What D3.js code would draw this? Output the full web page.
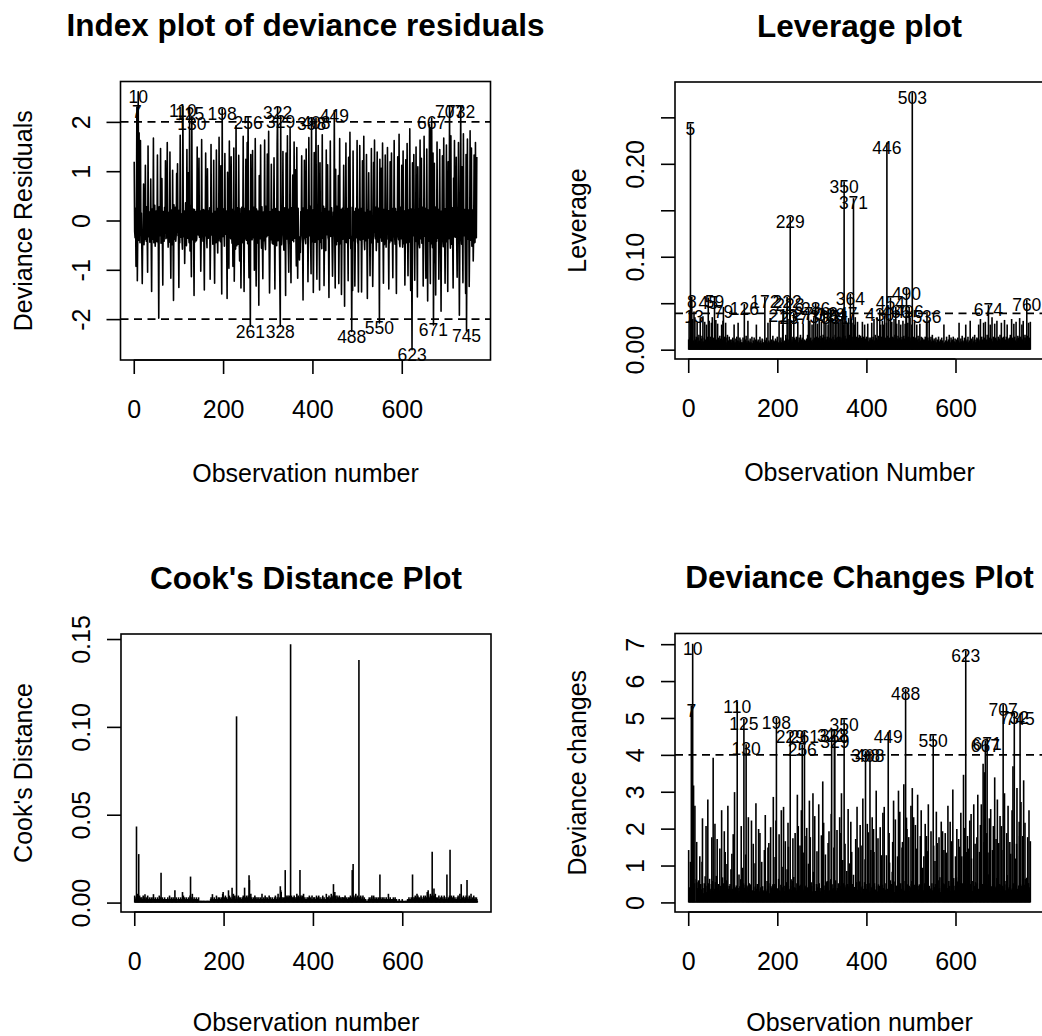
<!DOCTYPE html>
<html>
<head>
<meta charset="utf-8">
<script src="https://cdn.jsdelivr.net/npm/d3@7"></script>
<style>
  html, body { margin: 0; padding: 0; background: #fff; }
  svg { display: block; font-family: "Liberation Sans", Arial, Helvetica, sans-serif; }
</style>
</head>
<body>
<div id="chart"></div>
<script>
// Tick positions and labels
const observationTicks = [0, 200, 400, 600]
const residualTicks = [-2, -1, 0, 1, 2]
const residualTickLabels = ["-2", "-1", "0", "1", "2"]
const leverageTicks = [0, 0.05, 0.10, 0.15, 0.20, 0.25]
const leverageTickLabels = ["0.00", "", "0.10", "", "0.20", ""]
const cooksTicks = [0, 0.05, 0.10, 0.15]
const cooksTickLabels = ["0.00", "0.05", "0.10", "0.15"]
const changeTicks = [0, 1, 2, 3, 4, 5, 6, 7]
const changeTickLabels = ["0", "1", "2", "3", "4", "5", "6", "7"]

// Cut-off lines
const residualCutoffs = [-2, 2]
const leverageCutoffs = [0.0391]
const changeCutoffs = [4]

// One value per observation (1..768)
const devianceResiduals = [
  1.19,-0.22,-0.35,0.24,-0.93,0.31,2.30,-1.22,-0.28,2.61,-0.40,1.78,-0.26,-0.45,1.62,-0.18,0.15,-0.51,-1.28,-0.33,-0.27,0.74,-0.49,-0.21,
  -0.38,1.12,-0.25,-0.42,0.28,-0.26,-1.05,1.51,-0.33,-0.19,0.17,-0.44,-0.31,0.84,-0.37,-1.44,0.23,-0.22,-0.38,1.67,-0.45,-0.29,0.31,-0.52,
  -0.31,0.19,-0.27,-0.43,1.33,-0.35,-0.48,-1.98,0.28,-0.24,-0.31,1.46,-0.46,-0.18,0.85,-0.32,-1.31,0.18,-0.33,-0.42,0.27,-0.25,1.21,-0.37,
  -0.29,-0.35,1.58,-0.21,-0.54,0.16,-0.44,-0.30,1.39,-0.38,-1.17,0.21,-0.26,-0.49,1.02,-0.36,-1.62,0.32,-0.23,-0.38,0.27,-0.42,-0.30,0.95,
  -0.24,1.15,-0.31,-0.27,-1.36,0.21,-0.45,1.73,-0.20,-0.34,0.13,-0.39,-0.58,2.32,-0.29,-0.33,0.19,-0.87,-0.24,0.36,-0.28,-0.51,1.44,-0.33,
  -0.36,0.97,-0.31,-0.45,2.27,-0.62,0.31,-0.40,-1.14,2.07,-0.26,-0.39,0.23,-0.35,-1.52,0.22,-0.44,-0.22,0.18,-0.41,-0.37,1.49,-0.28,-0.29,
  -0.27,1.26,-0.34,-0.25,0.19,-1.03,-0.36,1.64,-0.32,-0.19,-0.42,0.22,-0.43,-1.41,0.21,-0.28,1.37,-0.30,-0.34,-0.55,1.05,-0.23,-0.36,0.19,
  -0.28,0.26,-1.19,-0.41,1.54,-0.27,-0.29,0.14,-0.48,-0.32,1.22,-0.36,-1.27,0.18,-0.21,-0.45,1.43,-0.33,-0.30,-0.66,0.25,-0.41,1.69,-0.34,
  -0.26,-0.43,1.11,-0.39,-1.49,2.26,-0.33,-0.31,0.23,-0.24,-0.52,1.36,-0.27,-0.28,0.19,-0.40,-1.58,0.98,-0.35,-0.32,-0.97,1.61,-0.29,-0.24,
  -0.37,1.29,-0.22,-0.46,0.22,-0.93,-0.41,1.47,-1.23,-0.31,0.19,-0.58,1.92,-0.37,-0.51,0.26,-0.26,-0.48,1.32,-0.34,-0.82,0.24,-0.35,-1.37,
  -0.33,0.27,-0.29,-0.45,1.71,-0.38,-1.44,0.24,-0.23,-0.37,1.24,-0.40,-0.33,1.58,-0.47,2.09,-0.32,-1.16,0.19,-0.27,-2.15,1.34,-0.31,-0.36,
  -0.39,1.42,-0.31,-0.35,0.27,-1.01,-0.40,1.66,-0.24,-1.33,0.23,-0.46,-0.38,0.19,-0.28,-1.72,0.91,-0.37,-0.33,1.53,-0.25,-0.56,0.28,-0.42,
  -1.18,0.17,-0.34,-0.41,1.63,-0.45,-0.59,0.29,-0.22,-0.33,1.35,-0.30,-0.30,1.81,-0.44,-1.47,-0.58,0.18,-0.39,1.14,-0.27,-0.46,0.22,-0.48,
  -0.35,1.27,-0.29,-1.39,0.24,-0.26,-0.47,-0.51,1.55,2.29,-0.41,-0.32,0.18,-0.33,-1.22,-2.15,2.11,-0.32,-0.49,0.27,-0.29,1.40,-0.33,-0.60,
  -0.44,0.26,-0.25,-1.52,1.37,-0.38,-0.36,1.72,-0.31,-0.49,-1.05,0.23,-0.45,1.89,-0.37,-1.26,0.26,-0.34,-0.40,0.92,-0.23,-0.43,1.59,-0.29,
  -0.36,1.03,-0.32,-0.92,1.48,-0.27,-1.17,0.25,-0.42,-0.38,-0.80,-0.33,-0.65,0.18,-0.24,1.31,-0.31,-0.46,-1.61,0.26,-0.30,1.22,-0.35,-0.39,
  -0.47,1.45,-0.28,-0.34,0.21,-1.24,-0.37,1.68,-0.31,-0.21,0.29,-0.46,-1.08,2.07,-0.43,-0.32,0.21,-1.46,-0.38,1.38,-0.26,-0.44,0.23,2.08,
  -0.28,-1.19,0.25,-0.35,1.52,-0.39,-0.25,-1.41,1.17,-0.44,0.16,-0.30,-0.57,1.74,-0.36,-0.22,0.29,-1.32,-0.41,0.24,-0.37,-0.61,1.43,-0.26,
  -0.29,1.13,-0.34,-0.40,-1.56,0.19,-0.33,1.61,-0.32,-0.27,0.26,-0.45,-1.13,-0.52,0.17,-0.31,2.23,-0.30,-1.37,1.04,-0.24,-0.49,0.29,-0.42,
  -0.36,0.91,-1.28,-0.35,1.66,-0.47,-0.23,0.22,-1.50,-0.39,0.25,-0.38,-0.27,1.12,-0.26,-1.74,0.19,-0.44,1.57,-0.32,-0.45,0.24,-0.31,-1.22,
  1.28,-0.36,-0.32,1.79,-0.29,-0.57,-0.48,-2.25,0.27,-1.42,1.41,-0.34,-0.41,0.18,-1.33,-0.38,0.25,-0.25,-0.35,1.62,-0.43,-0.48,-1.45,0.23,
  -0.39,1.52,-0.27,-0.40,0.24,-1.45,-0.33,1.21,-0.38,-0.22,1.71,-0.37,-0.59,0.16,-0.41,-0.30,1.34,-0.43,-1.58,0.22,-0.36,0.97,-0.28,-0.26,
  -1.12,0.19,-0.45,1.46,-0.31,-0.36,-1.34,-0.51,1.18,-0.24,1.63,-0.32,-0.37,0.27,-0.61,-0.29,1.39,-0.33,-0.44,0.25,-0.27,-2.08,1.24,-0.35,
  -0.34,1.06,-0.42,-0.40,1.57,-0.26,-1.27,0.22,-0.49,-0.31,1.33,-0.33,-0.54,0.21,-0.23,1.48,-0.38,-0.36,-1.39,0.20,-0.45,1.19,-0.28,-0.41,
  1.37,-0.42,-0.25,-1.16,0.25,-0.33,1.62,-0.30,-0.48,0.24,-0.37,-1.48,0.18,-0.24,1.29,-0.31,-0.39,1.75,-0.46,-0.53,0.27,-0.28,-0.37,1.12,
  -0.33,-0.54,1.41,-0.47,-0.22,0.19,-1.31,-0.39,1.23,-0.36,-0.45,1.56,-0.27,-1.12,0.21,-0.44,-0.31,1.86,-0.34,-1.42,0.23,-0.38,-2.62,1.17,
  -0.31,-0.26,1.34,-0.39,-1.21,0.22,-0.35,1.49,-0.43,-0.38,-1.55,1.09,-0.29,0.24,-0.48,-0.55,1.63,-0.37,-0.23,1.26,-0.46,-0.41,0.27,-1.33,
  -0.45,1.71,-0.28,-0.32,0.24,-1.17,-0.34,1.45,-0.33,-1.63,0.21,-0.26,-0.42,1.94,-0.39,-1.28,1.88,-0.47,2.08,-0.31,-0.55,1.37,-2.12,-0.38,
  1.16,-0.85,-0.36,-1.51,0.28,-0.42,1.59,-0.24,-0.36,0.22,-1.19,-0.33,1.44,-0.29,-0.27,-1.84,0.19,-0.35,1.31,-0.38,-0.53,1.67,-0.29,-0.31,
  -1.27,0.24,-0.43,1.53,-0.25,-0.40,-1.44,1.19,-0.37,-0.36,2.31,-0.31,-0.56,1.72,-0.48,-0.22,0.26,-0.41,-1.37,0.86,-0.34,1.62,-0.32,-0.28,
  -0.34,1.28,-0.40,-1.15,0.27,-0.30,1.58,-0.33,-1.92,-0.45,0.23,2.31,-0.27,-0.48,1.09,-0.36,-1.26,1.76,-0.31,-0.23,0.22,-0.39,-1.48,1.34,
  -2.23,-0.41,1.65,-0.32,-0.38,0.21,-1.34,-0.46,1.82,-0.27,-0.40,1.47,-0.52,-0.38,0.21,-0.82,-0.29,1.33,-0.45,-0.44,1.58,-0.31,-0.35,1.29
]

const leverages = [
  .011,.031,.005,.013,.243,.008,.027,.057,.007,.033,.005,.010,.041,.007,.035,.011,.004,.014,.008,.029,.006,.013,.009,.016,
  .007,.010,.034,.005,.012,.008,.015,.006,.036,.009,.005,.013,.030,.007,.011,.004,.027,.008,.014,.007,.056,.011,.031,.006,
  .010,.014,.005,.029,.007,.035,.011,.005,.013,.008,.057,.016,.006,.032,.009,.011,.007,.028,.005,.013,.008,.010,.015,.007,
  .012,.008,.027,.005,.011,.031,.046,.007,.010,.014,.006,.029,.008,.005,.013,.016,.007,.010,.005,.014,.009,.007,.011,.008,
  .006,.011,.007,.013,.005,.010,.027,.007,.008,.003,.012,.008,.014,.006,.010,.029,.005,.009,.007,.013,.005,.011,.007,.008,
  .008,.005,.013,.007,.010,.049,.006,.011,.005,.015,.007,.009,.005,.031,.007,.010,.004,.008,.012,.006,.008,.005,.014,.007,
  .005,.010,.007,.013,.005,.008,.011,.006,.027,.007,.005,.009,.011,.002,.008,.007,.014,.005,.010,.007,.005,.012,.008,.006,
  .008,.005,.011,.057,.007,.010,.005,.013,.008,.006,.029,.007,.010,.005,.008,.034,.007,.005,.011,.008,.006,.015,.007,.010,
  .005,.009,.007,.012,.008,.005,.010,.014,.006,.008,.007,.031,.005,.010,.007,.013,.008,.005,.011,.027,.042,.007,.009,.006,
  .010,.007,.016,.008,.012,.057,.007,.033,.008,.011,.006,.054,.143,.010,.028,.007,.011,.008,.014,.009,.040,.007,.013,.008,
  .011,.008,.014,.007,.010,.030,.008,.006,.013,.010,.007,.016,.005,.011,.008,.013,.007,.028,.009,.006,.011,.008,.010,.007,
  .009,.012,.007,.016,.008,.044,.007,.011,.031,.008,.013,.010,.006,.027,.008,.011,.007,.035,.009,.013,.008,.050,.010,.014,
  .011,.028,.008,.013,.007,.033,.010,.015,.008,.012,.030,.009,.013,.007,.016,.011,.041,.008,.014,.010,.029,.007,.011,.014,
  .011,.027,.008,.031,.010,.013,.007,.043,.012,.009,.034,.010,.014,.008,.029,.011,.008,.016,.040,.010,.013,.032,.009,.014,
  .010,.029,.008,.014,.033,.010,.013,.008,.036,.011,.044,.009,.027,.181,.011,.015,.008,.031,.012,.010,.028,.008,.013,.034,
  .011,.016,.009,.060,.013,.033,.010,.014,.008,.029,.163,.011,.027,.008,.035,.012,.010,.014,.007,.030,.011,.013,.009,.016,
  .011,.008,.015,.007,.013,.010,.030,.008,.011,.014,.007,.027,.009,.012,.007,.014,.010,.008,.028,.009,.006,.013,.008,.011,
  .010,.013,.007,.029,.008,.011,.014,.007,.033,.010,.008,.016,.009,.013,.007,.035,.011,.008,.015,.010,.012,.043,.008,.027,
  .011,.014,.009,.031,.012,.008,.027,.010,.037,.011,.013,.008,.029,.223,.007,.015,.010,.034,.009,.013,.011,.056,.014,.010,
  .030,.010,.014,.008,.013,.033,.010,.016,.011,.046,.009,.028,.012,.008,.015,.011,.032,.010,.013,.008,.027,.011,.009,.014,
  .011,.031,.009,.015,.012,.008,.028,.010,.036,.066,.013,.010,.029,.008,.014,.046,.011,.034,.009,.013,.010,.027,.277,.012,
  .010,.014,.008,.030,.011,.007,.013,.009,.027,.007,.011,.015,.008,.012,.003,.028,.010,.008,.014,.010,.007,.013,.008,.011,
  .007,.011,.009,.014,.006,.010,.029,.041,.008,.013,.010,.007,.032,.008,.011,.005,.014,.009,.007,.016,.006,.010,.008,.012,
  .007,.010,.005,.013,.008,.006,.011,.001,.008,.014,.005,.009,.007,.011,.004,.008,.013,.006,.010,.007,.005,.027,.007,.008,
  .005,.010,.007,.014,.006,.009,.005,.011,.008,.016,.007,.008,.002,.013,.010,.006,.011,.007,.014,.005,.009,.007,.012,.008,
  .006,.011,.008,.002,.013,.007,.010,.029,.007,.008,.005,.012,.009,.007,.015,.006,.010,.008,.005,.013,.008,.007,.027,.009,
  .007,.011,.006,.014,.008,.005,.010,.008,.031,.007,.010,.012,.007,.005,.014,.009,.006,.011,.016,.008,.007,.011,.008,.013,
  .008,.012,.007,.027,.009,.006,.011,.033,.007,.010,.014,.007,.011,.008,.029,.008,.013,.010,.030,.007,.011,.009,.016,.008,
  .011,.048,.008,.013,.008,.027,.010,.007,.012,.035,.009,.007,.014,.011,.008,.028,.010,.013,.007,.011,.031,.008,.010,.014,
  .008,.012,.010,.016,.007,.011,.029,.008,.013,.007,.010,.014,.009,.032,.008,.011,.010,.014,.007,.027,.009,.012,.008,.011,
  .013,.008,.016,.007,.011,.033,.010,.013,.008,.011,.028,.009,.014,.007,.010,.030,.008,.012,.007,.015,.010,.013,.008,.034,
  .011,.014,.008,.012,.027,.008,.011,.031,.009,.013,.007,.016,.010,.013,.008,.054,.011,.015,.008,.029,.010,.013,.011,.030
]

const cooksDistances = [
  .004,.002,.001,.003,.0433,.002,.005,.003,.002,.0276,.001,.004,.002,.003,.001,.002,.003,.001,.002,.004,.001,.002,.003,.0048,
  .002,.001,.003,.001,.002,.004,.001,.002,.001,.003,.002,.001,.002,.003,.001,.002,.001,.003,.0048,.002,.001,.002,.003,.001,
  .001,.002,.001,.003,.002,.001,.002,.004,.001,.002,.003,.017,.002,.001,.003,.002,.001,.002,.001,.003,.002,.001,.002,.001,
  .002,.001,.003,.001,.002,.001,.004,.002,.001,.002,.003,.001,.002,.001,.003,.002,.001,.002,.007,.002,.001,.003,.002,.001,
  .001,.002,.003,.001,.002,.001,.002,.003,.001,.002,.001,.006,.002,.004,.001,.002,.003,.001,.002,.001,.003,.002,.001,.002,
  .001,.003,.002,.001,.004,.0148,.002,.001,.003,.005,.002,.001,.002,.003,.001,.002,.001,.002,.003,.001,.001,.002,.001,.003,
  .001,.0005,.001,.0005,.001,.001,.0005,.001,.0005,.001,.0005,.001,.001,.0005,.001,.0005,.001,.0005,.001,.0005,.001,.001,.0005,.001,
  .0005,.001,.002,.003,.001,.002,.0048,.001,.002,.001,.003,.001,.002,.001,.002,.004,.001,.002,.001,.003,.001,.002,.003,.001,
  .002,.001,.003,.002,.001,.005,.006,.002,.001,.003,.002,.004,.001,.002,.003,.001,.002,.001,.007,.003,.004,.002,.001,.003,
  .002,.001,.0085,.002,.003,.005,.002,.004,.003,.002,.001,.004,.106,.003,.002,.001,.004,.002,.003,.001,.002,.003,.002,.001,
  .002,.003,.001,.004,.002,.003,.0085,.002,.003,.001,.004,.002,.003,.002,.004,.003,.0155,.0128,.002,.003,.005,.002,.003,.001,
  .002,.001,.003,.002,.001,.004,.002,.003,.001,.002,.003,.001,.002,.001,.003,.002,.001,.002,.003,.001,.002,.005,.001,.002,
  .002,.003,.001,.002,.004,.002,.003,.001,.002,.003,.002,.001,.002,.004,.003,.002,.003,.001,.002,.001,.003,.002,.001,.002,
  .001,.003,.002,.004,.002,.001,.002,.003,.002,.005,.002,.001,.003,.002,.0093,.007,.006,.002,.003,.002,.001,.003,.002,.002,
  .003,.0185,.002,.004,.003,.002,.003,.004,.002,.003,.004,.002,.003,.147,.003,.004,.002,.003,.002,.003,.001,.004,.003,.002,
  .002,.003,.002,.005,.003,.002,.004,.002,.003,.002,.0185,.003,.004,.002,.003,.004,.002,.003,.005,.002,.001,.003,.002,.001,
  .002,.001,.003,.002,.001,.003,.002,.004,.001,.002,.003,.002,.001,.004,.002,.001,.002,.003,.001,.003,.002,.001,.002,.004,
  .001,.003,.002,.001,.004,.002,.001,.003,.002,.001,.002,.001,.003,.004,.002,.001,.003,.002,.001,.002,.001,.005,.002,.003,
  .002,.003,.001,.004,.002,.001,.003,.002,.005,.002,.003,.001,.004,.0105,.002,.003,.006,.002,.004,.002,.001,.004,.003,.002,
  .003,.002,.004,.001,.003,.002,.001,.002,.003,.003,.002,.003,.001,.002,.003,.004,.002,.001,.003,.002,.001,.002,.003,.002,
  .002,.003,.001,.004,.002,.003,.002,.0185,.003,.022,.004,.002,.003,.002,.004,.005,.003,.002,.001,.004,.002,.003,.138,.002,
  .003,.002,.004,.002,.001,.003,.002,.004,.002,.001,.003,.002,.001,.002,.001,.0005,.001,.0005,.001,.002,.001,.003,.002,.001,
  .002,.003,.001,.004,.002,.001,.003,.004,.002,.001,.003,.002,.001,.002,.003,.001,.002,.001,.003,.002,.001,.016,.003,.002,
  .001,.002,.003,.001,.002,.001,.003,.002,.001,.002,.001,.003,.002,.001,.002,.001,.005,.002,.001,.002,.003,.001,.002,.001,
  .002,.001,.002,.003,.001,.002,.001,.003,.002,.001,.002,.001,.0005,.001,.0005,.001,.002,.001,.0005,.001,.001,.0005,.001,.002,
  .001,.0005,.001,.0005,.001,.0005,.001,.001,.0005,.001,.001,.002,.001,.002,.003,.001,.002,.001,.002,.003,.001,.002,.016,.003,
  .002,.001,.003,.002,.004,.002,.001,.003,.005,.002,.004,.003,.002,.001,.003,.002,.001,.004,.003,.002,.001,.002,.003,.004,
  .002,.003,.001,.004,.002,.001,.003,.006,.002,.007,.004,.002,.003,.002,.005,.003,.004,.002,.0289,.003,.002,.004,.008,.003,
  .004,.005,.002,.003,.001,.002,.003,.001,.002,.004,.002,.001,.003,.002,.001,.004,.002,.001,.003,.002,.001,.004,.002,.001,
  .002,.003,.001,.016,.002,.001,.003,.002,.001,.004,.030,.003,.002,.004,.002,.001,.003,.002,.004,.002,.001,.003,.002,.001,
  .002,.001,.003,.002,.004,.001,.003,.002,.005,.001,.002,.0105,.002,.001,.003,.002,.004,.003,.001,.002,.003,.001,.004,.002,
  .0128,.002,.003,.001,.002,.004,.003,.001,.002,.005,.001,.002,.003,.001,.002,.004,.002,.001,.003,.002,.001,.003,.002,.001
]

const devianceChanges = [
  1.42,0.28,0.41,0.31,1.10,0.37,5.34,1.49,0.30,7.01,0.48,3.17,0.33,0.52,2.62,0.03,0.02,0.63,1.64,0.39,0.33,0.55,0.60,0.25,
  0.45,1.25,0.31,0.50,0.36,0.33,1.10,2.28,0.39,0.25,0.22,0.52,0.37,0.71,0.45,2.07,0.28,0.24,0.45,2.79,0.52,0.30,0.37,0.64,
  0.37,0.25,0.33,0.50,1.77,0.41,0.58,3.92,0.30,0.31,0.37,2.13,0.55,0.22,0.72,0.37,1.72,0.22,0.39,0.50,0.33,0.31,1.46,0.45,
  0.30,0.41,2.50,0.25,0.68,0.22,0.52,0.35,1.93,0.45,1.37,0.25,0.33,0.60,1.04,0.44,2.62,0.37,0.28,0.45,0.33,0.50,0.35,0.90,
  0.31,1.32,0.37,0.33,1.85,0.25,0.52,2.99,0.25,0.41,0.20,0.46,0.34,5.44,0.30,0.39,0.25,0.76,0.31,0.44,0.30,0.63,2.07,0.39,
  0.44,0.94,0.37,0.52,4.97,0.40,0.37,0.48,1.30,4.29,0.33,0.46,0.28,0.41,2.31,0.28,0.52,0.28,0.22,0.49,0.45,2.22,0.30,0.30,
  0.33,1.59,0.41,0.31,0.25,1.06,0.44,2.69,0.37,0.25,0.50,0.28,0.50,1.99,0.25,0.30,1.88,0.35,0.41,0.30,1.10,0.28,0.44,0.25,
  0.30,0.33,1.42,0.49,2.37,0.33,0.30,0.20,0.58,0.37,1.49,0.44,1.61,0.22,0.25,0.52,2.04,0.39,0.35,0.44,0.31,0.49,2.86,0.41,
  0.33,0.50,1.23,0.46,2.22,5.00,0.39,0.37,0.28,0.31,0.64,1.85,0.33,0.30,0.25,0.48,2.50,0.96,0.41,0.37,0.97,2.59,0.30,0.31,
  0.45,1.66,0.28,0.55,0.28,0.90,0.49,2.16,1.51,0.37,0.25,0.35,4.62,0.45,0.63,0.33,0.33,0.58,1.74,0.41,0.69,0.31,0.41,1.88,
  0.39,0.33,0.30,0.52,2.92,0.45,2.07,0.31,0.28,0.45,1.54,0.48,0.39,2.50,0.57,4.27,0.37,1.35,0.25,0.33,4.64,1.80,0.37,0.44,
  0.46,2.02,0.37,0.41,0.33,1.05,0.48,2.76,0.31,1.77,0.28,0.55,0.45,0.25,0.30,2.96,0.83,0.45,0.39,2.34,0.31,0.31,0.30,0.50,
  1.39,0.22,0.41,0.49,2.66,0.52,0.35,0.30,0.28,0.39,1.82,0.35,0.35,3.28,0.52,2.16,0.34,0.22,0.46,1.30,0.33,0.55,0.28,0.58,
  0.41,1.61,0.30,1.93,0.31,0.33,0.57,0.63,2.40,4.66,0.49,0.37,0.22,0.39,1.49,4.66,4.48,0.37,0.60,0.33,0.30,1.96,0.39,0.36,
  0.52,0.33,0.31,2.31,1.88,0.45,0.44,2.96,0.37,0.60,1.15,0.28,0.52,4.96,0.45,1.59,0.33,0.41,0.48,0.85,0.28,0.50,2.53,0.30,
  0.44,1.06,0.37,0.90,2.19,0.33,1.37,0.31,0.50,0.45,0.75,0.39,0.42,0.22,0.31,1.72,0.37,0.55,2.59,0.33,0.35,1.49,0.41,0.46,
  0.57,2.10,0.30,0.41,0.25,1.54,0.45,2.82,0.37,0.25,0.30,0.55,1.17,4.10,0.50,0.37,0.25,2.13,0.45,1.90,0.33,0.52,0.28,4.10,
  0.30,1.42,0.31,0.41,2.31,0.46,0.31,1.99,1.37,0.52,0.22,0.35,0.32,3.03,0.44,0.28,0.30,1.74,0.49,0.31,0.45,0.37,2.04,0.33,
  0.30,1.28,0.41,0.48,2.43,0.25,0.39,2.59,0.37,0.33,0.33,0.52,1.28,0.35,0.22,0.37,4.62,0.35,1.88,1.08,0.31,0.60,0.30,0.50,
  0.44,0.83,1.64,0.41,2.76,0.57,0.28,0.28,2.25,0.46,0.31,0.45,0.33,1.25,0.33,3.03,0.25,0.52,2.46,0.37,0.52,0.31,0.37,1.49,
  1.64,0.44,0.37,3.20,0.30,0.32,0.58,5.78,0.33,2.30,1.99,0.41,0.49,0.22,1.77,0.45,0.31,0.31,0.41,2.62,0.50,0.58,3.10,0.28,
  0.46,2.31,0.33,0.48,0.31,2.10,0.39,1.46,0.45,0.28,2.92,0.45,0.35,0.22,0.49,0.35,1.80,0.50,2.50,0.28,0.44,0.94,0.30,0.33,
  1.25,0.25,0.52,2.13,0.37,0.44,1.80,0.63,1.39,0.31,2.66,0.37,0.45,0.33,0.37,0.30,1.93,0.39,0.52,0.31,0.33,4.53,1.54,0.41,
  0.41,1.12,0.50,0.48,2.46,0.33,1.61,0.28,0.60,0.37,1.77,0.39,0.68,0.25,0.28,2.19,0.45,0.44,1.93,0.25,0.52,1.42,0.30,0.49,
  1.88,0.50,0.31,1.35,0.31,0.39,2.62,0.35,0.58,0.31,0.45,2.19,0.22,0.31,1.66,0.37,0.46,3.06,0.55,0.66,0.33,0.30,0.45,1.25,
  0.39,0.68,1.99,0.57,0.28,0.25,1.72,0.46,1.51,0.44,0.52,2.43,0.33,1.25,0.25,0.52,0.37,3.46,0.41,2.02,0.28,0.45,6.83,1.37,
  0.37,0.33,1.80,0.46,1.46,0.28,0.41,2.22,0.50,0.45,2.40,1.19,0.30,0.31,0.58,0.30,2.66,0.45,0.28,1.59,0.55,0.49,0.33,1.77,
  0.52,2.92,0.30,0.37,0.31,1.37,0.41,2.10,0.39,2.66,0.25,0.33,0.50,3.76,0.46,1.64,3.53,0.57,4.39,0.37,0.30,1.88,4.45,0.45,
  1.35,0.76,0.44,2.28,0.30,0.50,2.53,0.31,0.44,0.28,1.42,0.39,2.07,0.30,0.33,3.39,0.25,0.41,1.72,0.45,0.66,2.79,0.30,0.37,
  1.61,0.31,0.50,2.34,0.31,0.48,2.07,1.42,0.45,0.44,5.37,0.37,0.31,2.96,0.58,0.28,0.33,0.49,1.88,0.74,0.41,2.62,0.37,0.30,
  0.41,1.64,0.48,1.32,0.33,0.35,2.50,0.39,3.69,0.52,0.28,5.14,0.33,0.58,1.19,0.44,1.59,3.10,0.37,0.28,0.28,0.46,2.19,1.80,
  5.12,0.49,2.72,0.37,0.45,0.25,1.80,0.55,3.31,0.33,0.48,2.16,0.64,0.45,0.25,0.67,0.30,1.77,0.52,0.52,2.50,0.37,0.41,1.66
]

const width = 1042
const height = 1036

/**
 * Pads a range by 4% on each side, the way R sets its plot limits
 **/
function padRange([lo, hi]) {
  const pad = (hi - lo) * 0.04
  return [lo - pad, hi + pad]
}

/**
 * @class IndexPanel
 * @classdesc one index plot (line or spikes) with its own axes, cut-off lines and point labels
 */
class IndexPanel {
  constructor(svg, options) {
    this.svg = svg
    this.options = options
    this.box = options.box
    this.dv = {
      xScale: null,
      yScale: null,
      bounds: null
    }
    this.style = {
      lineWidth: 1.6,
      tickLength: 14,
      fontSize: 25,
      labelSize: 17.5,
      titleSize: 31.5
    }
  }

  createDataVis() {
    this.setScales()
    this.dv.bounds = this.svg.append("g")
    this.drawMarks()
    this.drawCutoffs()
    this.drawPointLabels()
    this.drawAxes()
    this.drawFrame()
    this.drawTitles()
  }

  setScales() {
    const values = this.options.values
    this.dv.xScale = d3.scaleLinear()
      .domain(padRange([1, values.length]))
      .range([this.box.left, this.box.right])
    this.dv.yScale = d3.scaleLinear()
      .domain(padRange(d3.extent(values)))
      .range([this.box.bottom, this.box.top])
  }

  drawMarks() {
    const { xScale, yScale, bounds } = this.dv
    const values = this.options.values

    if (this.options.markType === "line") {
      const line = d3.line()
        .x((d, i) => xScale(i + 1))
        .y(d => yScale(d))
      bounds.append("path")
        .datum(values)
        .attr("d", line)
        .attr("fill", "none")
        .attr("stroke", "#000")
        .attr("stroke-width", this.style.lineWidth)
        .attr("stroke-linejoin", "round")
      return
    }

    // type "h": one vertical line per observation, from zero up to the value
    bounds.append("g")
      .attr("stroke", "#000")
      .attr("stroke-width", this.style.lineWidth)
      .selectAll("line")
      .data(values)
      .enter().append("line")
        .attr("x1", (d, i) => xScale(i + 1))
        .attr("x2", (d, i) => xScale(i + 1))
        .attr("y1", yScale(0))
        .attr("y2", d => yScale(d))
  }

  drawCutoffs() {
    const { yScale, bounds } = this.dv
    bounds.selectAll(".cutoff")
      .data(this.options.cutoffs)
      .enter().append("line")
        .attr("class", "cutoff")
        .attr("x1", this.box.left)
        .attr("x2", this.box.right)
        .attr("y1", d => yScale(d))
        .attr("y2", d => yScale(d))
        .attr("stroke", "#000")
        .attr("stroke-width", this.style.lineWidth)
        .attr("stroke-dasharray", "8,5.5")
  }

  drawPointLabels() {
    const { xScale, yScale, bounds } = this.dv
    const flagged = this.options.values
      .map((value, i) => ({ obs: i + 1, value }))
      .filter(d => this.options.isFlagged(d.value))

    bounds.selectAll(".point-label")
      .data(flagged)
      .enter().append("text")
        .attr("class", "point-label")
        .attr("x", d => xScale(d.obs))
        .attr("y", d => yScale(d.value) + 11.3)
        .attr("text-anchor", "middle")
        .attr("font-size", this.style.labelSize)
        .text(d => d.obs)
  }

  drawAxes() {
    const { xScale, yScale } = this.dv
    const { tickLength, fontSize, lineWidth } = this.style
    const yLabels = this.options.yTickLabels

    const xAxis = this.svg.append("g")
      .attr("transform", `translate(0,${this.box.bottom})`)
      .call(d3.axisBottom(xScale)
        .tickValues(observationTicks)
        .tickSize(tickLength)
        .tickSizeOuter(0)
        .tickFormat(d3.format("d")))
    xAxis.select(".domain").remove()
    xAxis.append("line")
      .attr("x1", xScale(observationTicks[0]))
      .attr("x2", xScale(observationTicks[observationTicks.length - 1]))
      .attr("stroke", "#000")
      .attr("stroke-width", lineWidth)
    xAxis.selectAll(".tick line").attr("stroke-width", lineWidth)
    xAxis.selectAll(".tick text")
      .attr("y", 58)
      .attr("dy", null)
      .attr("font-size", fontSize)

    const yAxis = this.svg.append("g")
      .attr("transform", `translate(${this.box.left},0)`)
      .call(d3.axisLeft(yScale)
        .tickValues(this.options.yTicks)
        .tickSize(tickLength)
        .tickSizeOuter(0)
        .tickFormat((d, i) => yLabels[i]))
    yAxis.select(".domain").remove()
    yAxis.selectAll(".tick line").attr("stroke-width", lineWidth)
    yAxis.selectAll(".tick text")
      .attr("x", null)
      .attr("dy", null)
      .attr("transform", "translate(-31,0) rotate(-90)")
      .attr("text-anchor", "middle")
      .attr("font-size", fontSize)

    xAxis.attr("font-family", null).attr("font-size", null)
    yAxis.attr("font-family", null).attr("font-size", null)
  }

  drawFrame() {
    this.svg.append("rect")
      .attr("x", this.box.left)
      .attr("y", this.box.top)
      .attr("width", this.box.right - this.box.left)
      .attr("height", this.box.bottom - this.box.top)
      .attr("fill", "none")
      .attr("stroke", "#000")
      .attr("stroke-width", this.style.lineWidth)
  }

  drawTitles() {
    const midX = (this.box.left + this.box.right) / 2
    const midY = (this.box.top + this.box.bottom) / 2

    this.svg.append("text")
      .attr("x", midX)
      .attr("y", this.box.top - 45.5)
      .attr("text-anchor", "middle")
      .attr("font-size", this.style.titleSize)
      .attr("font-weight", "bold")
      .text(this.options.title)

    // the bottom row sits close to the lower edge of the picture
    this.svg.append("text")
      .attr("x", midX)
      .attr("y", Math.min(this.box.bottom + 122, height - 5))
      .attr("text-anchor", "middle")
      .attr("font-size", this.style.fontSize)
      .text(this.options.xLabel)

    this.svg.append("text")
      .attr("transform", `translate(${this.box.left - 89},${midY}) rotate(-90)`)
      .attr("text-anchor", "middle")
      .attr("font-size", this.style.fontSize)
      .text(this.options.yLabel)
  }
}

const svg = d3.select("#chart")
  .append("svg")
    .attr("width", width)
    .attr("height", height)
    .attr("viewBox", `0 0 ${width} ${height}`)

svg.append("rect")
  .attr("width", width)
  .attr("height", height)
  .attr("fill", "#fff")

const panels = [
  {
    title: "Index plot of deviance residuals",
    xLabel: "Observation number",
    yLabel: "Deviance Residuals",
    values: devianceResiduals,
    markType: "line",
    yTicks: residualTicks,
    yTickLabels: residualTickLabels,
    cutoffs: residualCutoffs,
    isFlagged: v => Math.abs(v) > 2,
    box: { left: 120.5, right: 490.5, top: 81.5, bottom: 360 }
  },
  {
    title: "Leverage plot",
    xLabel: "Observation Number",
    yLabel: "Leverage",
    values: leverages,
    markType: "spike",
    yTicks: leverageTicks,
    yTickLabels: leverageTickLabels,
    cutoffs: leverageCutoffs,
    isFlagged: v => v > leverageCutoffs[0],
    box: { left: 675, right: 1044, top: 82, bottom: 359 }
  },
  {
    title: "Cook's Distance Plot",
    xLabel: "Observation number",
    yLabel: "Cook's Distance",
    values: cooksDistances,
    markType: "spike",
    yTicks: cooksTicks,
    yTickLabels: cooksTickLabels,
    cutoffs: [],
    isFlagged: () => false,
    box: { left: 121, right: 491, top: 634, bottom: 912 }
  },
  {
    title: "Deviance Changes Plot",
    xLabel: "Observation number",
    yLabel: "Deviance changes",
    values: devianceChanges,
    markType: "spike",
    yTicks: changeTicks,
    yTickLabels: changeTickLabels,
    cutoffs: changeCutoffs,
    isFlagged: v => v > changeCutoffs[0],
    box: { left: 675, right: 1044, top: 633.5, bottom: 912 }
  }
]

panels.forEach(options => new IndexPanel(svg, options).createDataVis())
</script>
</body>
</html>
